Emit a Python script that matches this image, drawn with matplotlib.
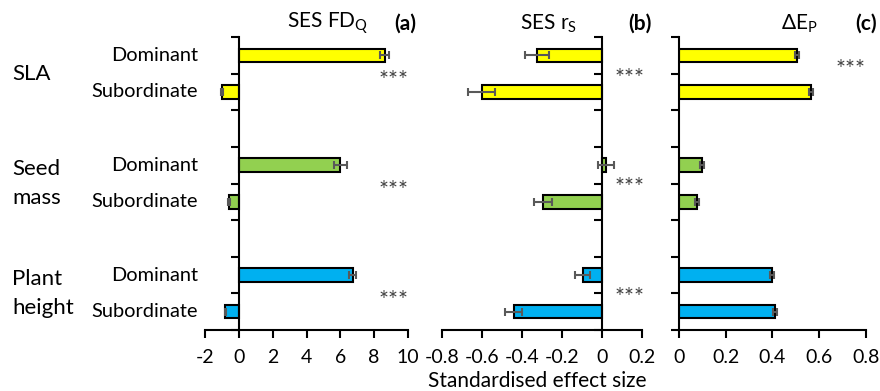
import matplotlib
matplotlib.use("Agg")
import matplotlib.pyplot as plt
import matplotlib.transforms as mtransforms
import numpy as np

plt.rcParams['font.family'] = ['Lato', 'DejaVu Sans']
plt.rcParams['mathtext.fontset'] = 'custom'
plt.rcParams['mathtext.rm'] = 'Lato'

groups = ["SLA", "Seed\nmass", "Plant\nheight"]
roles = ["Dominant", "Subordinate"]
colors = ["#FFFF00", "#92D050", "#00B0F0"]

# order: SLA Dom, SLA Sub, Seed Dom, Seed Sub, Height Dom, Height Sub
fdq = [8.62, -0.99, 6.0, -0.6, 6.72, -0.79]
fdq_err = [0.27, 0.05, 0.38, 0.05, 0.22, 0.05]
rs = [-0.326, -0.60, 0.02, -0.293, -0.097, -0.44]
rs_err = [0.06, 0.068, 0.042, 0.046, 0.038, 0.042]
dep = [0.507, 0.566, 0.10, 0.076, 0.40, 0.41]
dep_err = [0.008, 0.008, 0.008, 0.008, 0.008, 0.008]

titles = ["SES FD$_\\mathregular{Q}$", "SES r$_\\mathregular{S}$", "$\\Delta$E$_\\mathregular{P}$"]
panel_tags = ["(a)", "(b)", "(c)"]
xlims = [(-2, 10), (-0.8, 0.2), (0, 0.8)]
xticks = [np.arange(-2, 10.1, 2), np.arange(-0.8, 0.21, 0.2), np.arange(0, 0.81, 0.2)]
xticklabels = [["-2", "0", "2", "4", "6", "8", "10"],
               ["-0.8", "-0.6", "-0.4", "-0.2", "0", "0.2"],
               ["0", "0.2", "0.4", "0.6", "0.8"]]
stars = [[True, True, True], [True, True, True], [True, False, False]]

W, H = 880, 391
fig = plt.figure(figsize=(W / 100, H / 100), dpi=100)

rects = [(205, 408), (441.7, 642), (679, 865.7)]
ytop, ybot = 37, 330

positions = [0, 1, 3, 4, 6, 7]
bar_colors = [colors[0], colors[0], colors[1], colors[1], colors[2], colors[2]]
datasets = [(fdq, fdq_err), (rs, rs_err), (dep, dep_err)]
star_x = [394, 630, 851]
star_y_off = [0.2, 0.12, -0.12]
title_x = [328, 549, 799]
tag_x = [405, 640, 866]

axes = []
for i, ((x0, x1), (vals, errs)) in enumerate(zip(rects, datasets)):
    ax = fig.add_axes([x0 / W, 1 - ybot / H, (x1 - x0) / W, (ybot - ytop) / H])
    axes.append(ax)
    ax.barh(positions, vals, height=0.37, color=bar_colors, edgecolor="black",
            linewidth=1.5, zorder=2)
    ax.errorbar(vals, positions, xerr=errs, fmt="none", ecolor="#595959",
                elinewidth=1.5, capsize=3, capthick=1.5, zorder=3)
    ax.set_xlim(*xlims[i])
    ax.set_ylim(7.5, -0.5)
    ax.set_xticks(xticks[i])
    ax.set_xticklabels(xticklabels[i], fontsize=14)
    ax.set_yticks(np.arange(-0.5, 7.6, 1))
    ax.set_yticklabels([])
    for s in ["top", "right"]:
        ax.spines[s].set_visible(False)
    ax.spines["left"].set_position(("data", 0))
    ax.spines["left"].set_linewidth(1.5)
    ax.spines["bottom"].set_linewidth(1.5)
    ax.tick_params(axis="both", direction="out", length=6, width=1.5, pad=8)
    ax.patch.set_visible(False)
    tr = mtransforms.blended_transform_factory(fig.transFigure, ax.transData)
    for g in range(3):
        if stars[i][g]:
            ax.text(star_x[i] / W, 3 * g + 0.5 + star_y_off[i], "***", transform=tr,
                    ha="center", va="center", fontsize=17, color="#404040")
    fig.text(title_x[i] / W, 1 - 24 / H, titles[i], ha="center", va="center", fontsize=15)
    fig.text(tag_x[i] / W, 1 - 24 / H, panel_tags[i], ha="center", va="center",
             fontsize=15, fontweight="bold")

tr0 = mtransforms.blended_transform_factory(fig.transFigure, axes[0].transData)
for g, name in enumerate(groups):
    axes[0].text(12 / W, 3 * g + 0.5, name, transform=tr0, ha="left", va="center",
                 fontsize=16, linespacing=1.6)
    for r, role in enumerate(roles):
        axes[0].text(198 / W, 3 * g + r, role, transform=tr0, ha="right", va="center",
                     fontsize=14.4)

fig.text(537 / W, 1 - 381 / H, "Standardised effect size", ha="center", va="center",
         fontsize=15)

fig.savefig("out.png", dpi=100)
